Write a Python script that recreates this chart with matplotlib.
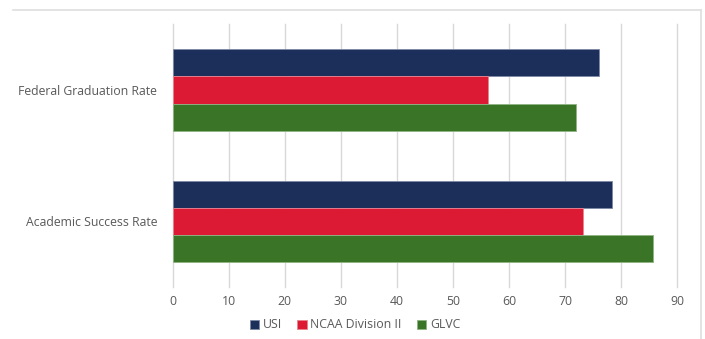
import matplotlib
matplotlib.use("Agg")
import matplotlib.pyplot as plt
import numpy as np
from matplotlib.lines import Line2D

categories = ["Federal Graduation Rate", "Academic Success Rate"]
series = ["USI", "NCAA Division II", "GLVC"]
usi = [76.1, 78.4]
ncaa = [56.3, 73.2]
glvc = [72.0, 85.6]
xticks = [0, 10, 20, 30, 40, 50, 60, 70, 80, 90]

colors = ["#1c2f5b", "#dc1a33", "#3a7426"]
edges = ["#7d8aa6", "#e8838f", "#8fb483"]
text_col = "#595959"

plt.rcParams["font.family"] = ["Open Sans", "DejaVu Sans"]

fig = plt.figure(figsize=(7.05, 3.39), dpi=100)
W, H = 705, 339
left, right, top, bottom = 172.5, 677.3, 24.3, 287.0
ax = fig.add_axes([left / W, 1 - bottom / H, (right - left) / W, (bottom - top) / H])

# categories listed top to bottom
y = np.arange(len(categories))[::-1].astype(float)
bar_h = 0.619 / 3
for i, (vals, c, e) in enumerate(zip([usi, ncaa, glvc], colors, edges)):
    ax.barh(y + bar_h * (1 - i), vals, height=bar_h, color=c, edgecolor=e,
            linewidth=0.6, label=series[i], zorder=3)

ax.set_xlim(0, 90)
ax.set_ylim(-0.5, len(categories) - 0.5)
ax.set_xticks(xticks)
ax.set_yticks(y)
ax.set_yticklabels(categories)
ax.grid(axis="x", color="#d9d9d9", linewidth=1.0, zorder=0)
for gl in ax.get_xgridlines():
    gl.set_clip_on(False)
for s in ax.spines.values():
    s.set_visible(False)
ax.tick_params(axis="both", length=0, colors=text_col, labelsize=8.8)
ax.tick_params(axis="y", pad=11)
ax.tick_params(axis="x", pad=6)

handles, labels = ax.get_legend_handles_labels()
fig.legend(handles, labels, loc="center", bbox_to_anchor=(355 / W, 1 - 325 / H),
           ncol=3, frameon=False, fontsize=8.8, labelcolor=text_col,
           handlelength=0.8, handleheight=0.8, handletextpad=0.3, columnspacing=1.2)

# light outer frame (top and right edges visible)
fig.add_artist(Line2D([13 / W, 701 / W], [1 - 10 / H, 1 - 10 / H], color="#dedede",
                      linewidth=1.2, transform=fig.transFigure))
fig.add_artist(Line2D([701 / W, 701 / W], [1 - 10 / H, 0], color="#dedede",
                      linewidth=1.2, transform=fig.transFigure))

fig.savefig("out.png", dpi=100)
